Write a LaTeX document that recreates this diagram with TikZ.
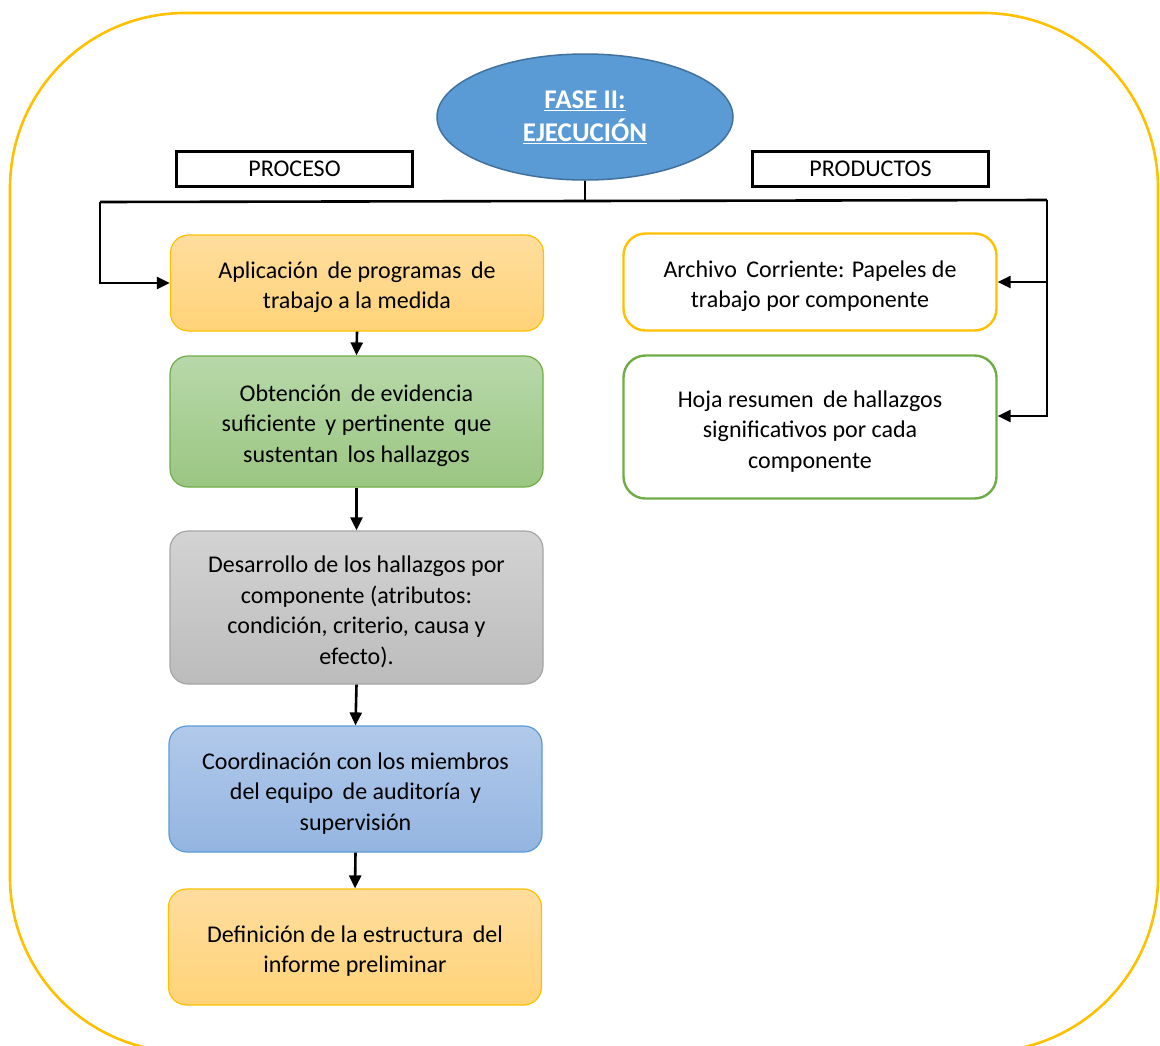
\documentclass[tikz,border=0pt]{standalone}
\usepackage{fontspec}
\setmainfont{Carlito}
\usetikzlibrary{arrows.meta,shapes.geometric}
\definecolor{gold}{HTML}{FFC000}
\definecolor{orTop}{HTML}{FFDD9E}
\definecolor{orBot}{HTML}{FFD378}
\definecolor{grTop}{HTML}{B7D8A9}
\definecolor{grBot}{HTML}{9BC682}
\definecolor{grLine}{HTML}{70AD47}
\definecolor{gyTop}{HTML}{D3D3D3}
\definecolor{gyBot}{HTML}{BCBCBC}
\definecolor{gyLine}{HTML}{A5A5A5}
\definecolor{blTop}{HTML}{B1C9EA}
\definecolor{blBot}{HTML}{94B5E1}
\definecolor{blLine}{HTML}{5B9BD5}
\definecolor{ellFill}{HTML}{5B9BD5}
\definecolor{ellLine}{HTML}{41719C}
\newcommand\tstrut{\rule{0pt}{25pt}}
\tikzset{
  txt/.style={font=\fontsize{24}{30.5}\selectfont, align=center, text=black},
  flowbox/.style={txt, rounded corners=18pt, minimum width=373pt, line width=1.2pt, inner sep=0pt},
  orbox/.style={flowbox, draw=gold, top color=orTop, bottom color=orBot},
  grbox/.style={flowbox, draw=grLine, top color=grTop, bottom color=grBot},
  gybox/.style={flowbox, draw=gyLine, top color=gyTop, bottom color=gyBot},
  blbox/.style={flowbox, draw=blLine, top color=blTop, bottom color=blBot},
  prodbox/.style={txt, rounded corners=22pt, minimum width=373pt, line width=2.4pt, fill=white, inner sep=0pt},
  labbox/.style={draw=black, line width=2.4pt, minimum width=236pt, minimum height=35pt, inner sep=0pt, font=\fontsize{24}{26}\selectfont},
  arr/.style={draw=black, line width=2.6pt, -{Triangle[length=13pt,width=12pt]}},
  ln/.style={draw=black, line width=2.6pt},
}
\begin{document}
\begin{tikzpicture}[x=1pt,y=-1pt]
\useasboundingbox (0,0) rectangle (1160,1045);
% outer frame
\draw[gold, line width=2.6pt, rounded corners=175pt] (10,13) rectangle (1158,1052);

% title ellipse
\node[ellipse, draw=ellLine, line width=1.5pt, fill=ellFill, minimum width=296pt, minimum height=126pt,
      text=white, font=\fontsize{27}{33}\selectfont\bfseries, align=center] (fase) at (585,117)
      {\underline{FASE II:}\\\underline{EJECUCIÓN}};

% labels
\node[labbox] (proc) at (294.5,169) {PROCESO};
\node[labbox] (prod) at (870.5,169) {PRODUCTOS};

% process boxes
\node[orbox, minimum height=96pt] (b1) at (357,283) {\tstrut Aplicación\, de programas\, de\\trabajo a la medida};
\node[grbox, minimum height=131pt] (b2) at (356.5,421.5) {\tstrut Obtención\, de evidencia\\suficiente\, y pertinente\, que\\sustentan\, los hallazgos};
\node[gybox, minimum height=153pt] (b3) at (356.5,607.5) {\tstrut Desarrollo de los hallazgos por\\componente (atributos:\\condición, criterio, causa y\\efecto).};
\node[blbox, minimum height=126pt] (b4) at (355.5,789) {\tstrut Coordinación con los miembros\\del equipo\, de auditoría\, y\\supervisión};
\node[orbox, minimum height=116pt] (b5) at (355,947) {\tstrut Definición de la estructura\, del\\informe preliminar};

% product boxes
\node[prodbox, draw=gold, minimum height=97pt] (r1) at (810,282) {\tstrut Archivo\, Corriente: Papeles de\\trabajo por componente};
\node[prodbox, draw=grLine, minimum height=143pt] (r2) at (810,427) {\tstrut Hoja resumen\, de hallazgos\\significativos por cada\\componente};

% connectors
\coordinate (jn) at (585,201);
\coordinate (lc) at (100,202);
\coordinate (rc) at (1047,200);
\draw[ln] (fase.south) -- (jn);
\draw[ln] (lc) -- (jn) -- (rc);
\draw[arr] (lc) |- (b1.west);
\draw[arr] (rc) |- (r1.east);
\draw[arr] (rc) |- ([yshift=11pt]r2.east);

\draw[arr] (b1.south) -- (b2.north);
\draw[arr] (b2.south) -- (b3.north);
\draw[arr] (b3.south) -- (b4.north);
\draw[arr] (b4.south) -- (b5.north);
\end{tikzpicture}
\end{document}
